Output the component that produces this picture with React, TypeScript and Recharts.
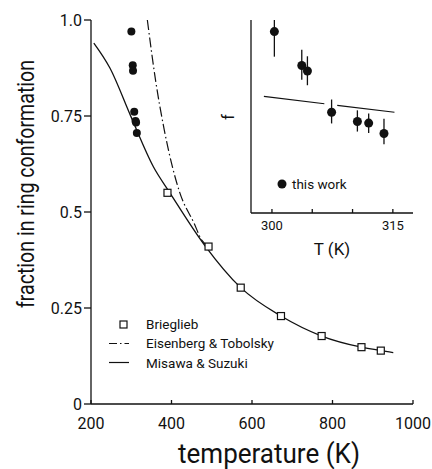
import React from 'react'
import { ComposedChart, Line, Scatter, XAxis, YAxis, ErrorBar, Legend, Label, CartesianGrid } from 'recharts'

const FONT = 'Roboto, "DejaVu Sans", sans-serif'
const INK = '#111'

// this work (inset + main)
const thisWorkT = [300.3, 303.7, 304.4, 307.4, 310.6, 312.0, 313.9]
const thisWorkF = [0.97, 0.882, 0.868, 0.761, 0.737, 0.733, 0.706]
const thisWorkLow = [0.065, 0.037, 0.037, 0.029, 0.026, 0.026, 0.028]
const thisWorkHigh = [0.03, 0.041, 0.038, 0.033, 0.029, 0.025, 0.038]

// Brieglieb squares
const briegliebT = [390, 492, 572, 672, 773, 872, 920]
const briegliebF = [0.55, 0.41, 0.303, 0.229, 0.177, 0.148, 0.139]

// Eisenberg & Tobolsky (dash-dot)
const eisenbergT = [340, 361, 382, 421, 456, 475, 493]
const eisenbergF = [1.0, 0.839, 0.714, 0.549, 0.471, 0.427, 0.41]

// Misawa & Suzuki (solid)
const misawaT = [207, 247, 299, 355, 396, 482, 572, 672, 773, 872, 920, 951]
const misawaF = [0.94, 0.875, 0.749, 0.618, 0.55, 0.414, 0.303, 0.229, 0.177, 0.148, 0.139, 0.134]

// inset fit line (broken at the 307 K point)
const insetLineT = [299.0, 306.5, 307.3, 308.1, 315.2]
const insetLineF: (number | null)[] = [0.802, 0.783, null, 0.779, 0.761]

const mainXTicks = [200, 400, 600, 800, 1000]
const mainYTicks = [0, 0.25, 0.5, 0.75, 1]
const insetXTicks = [300, 305, 310, 315]
const insetXLabels = [300, 315]

const thisWork = thisWorkT.map((t, i) => ({ t, f: thisWorkF[i], err: [thisWorkLow[i], thisWorkHigh[i]] }))
const brieglieb = briegliebT.map((t, i) => ({ t, f: briegliebF[i] }))
const eisenberg = eisenbergT.map((t, i) => ({ t, f: eisenbergF[i] }))
const misawa = misawaT.map((t, i) => ({ t, f: misawaF[i] }))
const insetLine = insetLineT.map((t, i) => ({ t, f: insetLineF[i] }))

const Dot = (r: number) => (p: any) => <circle cx={p.cx} cy={p.cy} r={r} fill={INK} />
const Square = (p: any) => <rect x={p.cx - 3.5} y={p.cy - 3.5} width={7} height={7} fill="#fff" stroke={INK} strokeWidth={1.2} />

const fmtY = (v: number) => (v === 1 ? '1.0' : v === 0 ? '0' : String(v))

const mainLegend = [
  { name: 'Brieglieb', kind: 'square' },
  { name: 'Eisenberg & Tobolsky', kind: 'dashdot' },
  { name: 'Misawa & Suzuki', kind: 'solid' },
]

const MainLegend = () => (
  <div style={{ fontFamily: FONT, fontSize: 13.5, color: INK, whiteSpace: 'nowrap', width: 'max-content' }}>
    {mainLegend.map((it) => (
      <div key={it.name} style={{ display: 'flex', alignItems: 'center', height: 19.3 }}>
        <svg width={30} height={19} style={{ flexShrink: 0, display: 'block' }}>
          {it.kind === 'square' && <rect x={15} y={6} width={7} height={7} fill="#fff" stroke={INK} strokeWidth={1.2} />}
          {it.kind === 'dashdot' && <line x1={4} x2={24} y1={9.5} y2={9.5} stroke={INK} strokeWidth={1.2} strokeDasharray="8 3 1.5 3" />}
          {it.kind === 'solid' && <line x1={4} x2={24} y1={9.5} y2={9.5} stroke={INK} strokeWidth={1.2} />}
        </svg>
        <span style={{ paddingLeft: 11 }}>{it.name}</span>
      </div>
    ))}
  </div>
)

const InsetLegend = () => (
  <div style={{ fontFamily: FONT, fontSize: 13.5, color: INK, display: 'flex', alignItems: 'center', whiteSpace: 'nowrap', width: 'max-content' }}>
    <svg width={14} height={14} style={{ flexShrink: 0, display: 'block' }}><circle cx={5} cy={7} r={4.5} fill={INK} /></svg>
    <span style={{ paddingLeft: 1 }}>this work</span>
  </div>
)

const legendBox = { position: 'absolute' as const, width: 0, height: 0, overflow: 'visible' as const }

export default function App() {
  const axisStroke = { stroke: INK, strokeWidth: 1.3 }
  return (
    <div style={{ position: 'absolute', left: 0, top: 0, width: 432, height: 469, background: '#fff' }}>
      <ComposedChart width={432} height={469} margin={{ top: 20, right: 19, bottom: 0, left: 0 }}>
        <XAxis xAxisId="b" type="number" dataKey="t" domain={[200, 1000]} ticks={mainXTicks} height={65}
          tickSize={-4} tickMargin={18} axisLine={axisStroke} tickLine={axisStroke}
          tick={{ fill: INK, fontSize: 16, fontFamily: FONT }}>
          <Label content={({ viewBox }: any) => (
            <text x={viewBox.x + viewBox.width / 2 + 17} y={viewBox.y + 59} textAnchor="middle"
              fontSize={27} fontFamily={FONT} fill={INK} textLength={182} lengthAdjust="spacingAndGlyphs">temperature (K)</text>
          )} />
        </XAxis>
        <XAxis xAxisId="top" orientation="top" type="number" domain={[200, 1000]} ticks={mainXTicks} height={0}
          tickSize={-4} tick={false} axisLine={axisStroke} tickLine={axisStroke} />
        <YAxis yAxisId="l" type="number" domain={[0, 1]} ticks={mainYTicks} width={91} tickFormatter={fmtY}
          tickSize={7} tickMargin={2} axisLine={axisStroke} tickLine={axisStroke}
          tick={{ fill: INK, fontSize: 16, fontFamily: FONT }}>
          <Label content={({ viewBox }: any) => (
            <text transform={`translate(${viewBox.x + 34}, ${viewBox.y + 164}) rotate(-90)`} textAnchor="middle"
              fontSize={24} fontFamily={FONT} fill={INK} textLength={248} lengthAdjust="spacingAndGlyphs">fraction in ring conformation</text>
          )} />
        </YAxis>
        <YAxis yAxisId="r" orientation="right" type="number" domain={[0, 1]} width={0} tick={false} tickLine={false}
          axisLine={axisStroke} />
        <Line xAxisId="b" yAxisId="l" data={misawa} dataKey="f" type="monotone" stroke={INK} strokeWidth={1.3}
          dot={false} isAnimationActive={false} />
        <Line xAxisId="b" yAxisId="l" data={eisenberg} dataKey="f" type="monotone" stroke={INK} strokeWidth={1.2}
          strokeDasharray="10 3 1.5 3" dot={false} isAnimationActive={false} />
        <Scatter xAxisId="b" yAxisId="l" data={brieglieb} dataKey="f" shape={Square} isAnimationActive={false} />
        <Scatter xAxisId="b" yAxisId="l" data={thisWork} dataKey="f" shape={Dot(4)} isAnimationActive={false} />
        <Legend content={<MainLegend />} wrapperStyle={{ ...legendBox, left: 105, top: 314.5 }} />
      </ComposedChart>

      <div style={{ position: 'absolute', left: 215, top: 20 }}>
        <ComposedChart width={198} height={241} margin={{ top: 0, right: 0, bottom: 0, left: 0 }}>
          <CartesianGrid fill="#fff" horizontal={false} vertical={false} />
          <XAxis type="number" dataKey="t" domain={[297.4, 317.5]} ticks={insetXTicks} height={48}
            tickFormatter={(v: number) => (insetXLabels.includes(v) ? String(v) : '')}
            tickSize={-4} tickMargin={12} axisLine={axisStroke} tickLine={axisStroke}
            tick={{ fill: INK, fontSize: 13, fontFamily: FONT }}>
            <Label content={({ viewBox }: any) => (
              <text x={viewBox.x + viewBox.width / 2} y={viewBox.y + 42} textAnchor="middle"
                fontSize={17} fontFamily={FONT} fill={INK}>T (K)</text>
            )} />
          </XAxis>
          <XAxis xAxisId="top" orientation="top" type="number" domain={[297.4, 317.5]} ticks={insetXTicks} height={0}
            tickSize={-4} tick={false} axisLine={axisStroke} tickLine={axisStroke} />
          <YAxis type="number" domain={[0.5, 1]} ticks={[0.75]} width={36} tick={false}
            tickSize={-4} axisLine={axisStroke} tickLine={axisStroke}>
            <Label content={({ viewBox }: any) => (
              <text transform={`translate(${viewBox.x + 19}, ${viewBox.y + 97}) rotate(-90)`} textAnchor="middle"
                fontSize={17} fontFamily={FONT} fill={INK}>f</text>
            )} />
          </YAxis>
          <YAxis yAxisId="r" orientation="right" type="number" domain={[0.5, 1]} ticks={[0.75]} width={0} tick={false}
            tickSize={-4} axisLine={axisStroke} tickLine={axisStroke} />
          <Line data={insetLine} dataKey="f" type="linear" stroke={INK} strokeWidth={1.2} dot={false}
            connectNulls={false} isAnimationActive={false} />
          <Scatter data={thisWork} dataKey="f" shape={Dot(4.5)} isAnimationActive={false}>
            <ErrorBar dataKey="err" direction="y" width={0} stroke={INK} strokeWidth={1.3} />
          </Scatter>
          <Legend content={<InsetLegend />} wrapperStyle={{ ...legendBox, left: 62, top: 156 }} />
        </ComposedChart>
      </div>
    </div>
  )
}
